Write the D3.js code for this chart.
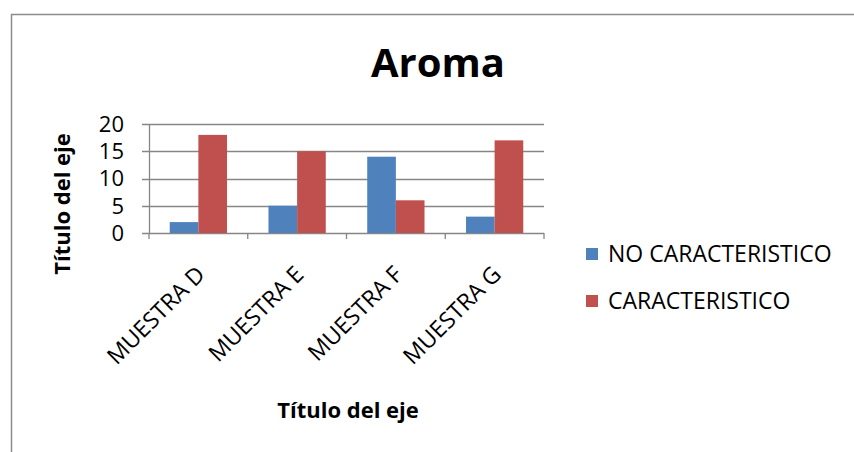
<!DOCTYPE html>
<html>
<head>
<meta charset="utf-8">
<script src="https://cdn.jsdelivr.net/npm/d3@7"></script>
<style>
  html, body { margin: 0; padding: 0; background: #fff; }
  svg { display: block; font-family: "Open Sans", Lato, sans-serif; }
</style>
</head>
<body>
<svg id="chart" width="854" height="452"></svg>
<script>
// Chart data
const categories = ["MUESTRA D", "MUESTRA E", "MUESTRA F", "MUESTRA G"];
const seriesNames = ["NO CARACTERISTICO", "CARACTERISTICO"];
const noCaracteristico = [2, 5, 14, 3];
const caracteristico = [18, 15, 6, 17];
const yTicks = [0, 5, 10, 15, 20];
const colors = ["#4F81BD", "#C0504D"];

const seriesValues = [noCaracteristico, caracteristico];

const svg = d3.select("#chart");

// Outer frame
svg.append("rect")
  .attr("x", 11.5).attr("y", 14.5)
  .attr("width", 860).attr("height", 460)
  .attr("fill", "#fff")
  .attr("stroke", "#8c8c8c").attr("stroke-width", 1.5);

const plot = { left: 149, right: 544, top: 124, bottom: 233 };

const x = d3.scaleBand().domain(categories).range([plot.left, plot.right]).paddingInner(0.42).paddingOuter(0.21);
const xs = d3.scaleBand().domain(seriesNames).range([0, x.bandwidth()]);
const y = d3.scaleLinear().domain([0, 20]).range([plot.bottom, plot.top]);

// Gridlines and left ticks
svg.append("g")
  .selectAll("line")
  .data(yTicks)
  .join("line")
  .attr("x1", plot.left - 7).attr("x2", plot.right)
  .attr("y1", d => Math.round(y(d)) + 0.5).attr("y2", d => Math.round(y(d)) + 0.5)
  .attr("stroke", "#868686").attr("stroke-width", 1.3);

// Y axis line
svg.append("line")
  .attr("x1", plot.left + 0.5).attr("x2", plot.left + 0.5)
  .attr("y1", plot.top).attr("y2", plot.bottom + 1)
  .attr("stroke", "#868686").attr("stroke-width", 1.3);

// Category boundary ticks
const step = (plot.right - plot.left) / categories.length;
svg.append("g")
  .selectAll("line")
  .data(d3.range(categories.length + 1))
  .join("line")
  .attr("x1", i => plot.left + i * step).attr("x2", i => plot.left + i * step)
  .attr("y1", plot.bottom).attr("y2", plot.bottom + 6)
  .attr("stroke", "#868686").attr("stroke-width", 1.3);

// Y tick labels
svg.append("g")
  .selectAll("text")
  .data(yTicks)
  .join("text")
  .attr("x", 124).attr("y", d => y(d))
  .attr("dy", "0.36em")
  .attr("text-anchor", "end")
  .attr("font-size", 22)
  .attr("fill", "#000")
  .text(d => d);

// Bars
const groups = svg.append("g")
  .selectAll("g")
  .data(categories)
  .join("g")
  .attr("transform", c => `translate(${x(c)},0)`);

groups.selectAll("rect")
  .data((c, i) => seriesNames.map((s, j) => ({ s, v: seriesValues[j][i], j })))
  .join("rect")
  .attr("x", d => xs(d.s))
  .attr("y", d => y(d.v))
  .attr("width", xs.bandwidth())
  .attr("height", d => y(0) - y(d.v))
  .attr("fill", d => colors[d.j]);

// Category labels, rotated
svg.append("g")
  .selectAll("text")
  .data(categories)
  .join("text")
  .attr("transform", c => `translate(${x(c) + x.bandwidth() / 2 + 8},${plot.bottom + 43}) rotate(-45)`)
  .attr("text-anchor", "end")
  .attr("font-size", 23)
  .attr("fill", "#000")
  .text(c => c);

// Title
svg.append("text")
  .attr("x", 438).attr("y", 77)
  .attr("text-anchor", "middle")
  .attr("font-size", 40).attr("font-weight", "bold")
  .text("Aroma");

// Axis titles
svg.append("text")
  .attr("x", 348).attr("y", 418)
  .attr("text-anchor", "middle")
  .attr("font-size", 22).attr("font-weight", "bold")
  .text("Título del eje");

svg.append("text")
  .attr("transform", "translate(70,204) rotate(-90)")
  .attr("text-anchor", "middle")
  .attr("font-size", 22).attr("font-weight", "bold")
  .text("Título del eje");

// Legend
const legend = svg.append("g")
  .selectAll("g")
  .data(seriesNames)
  .join("g")
  .attr("transform", (d, i) => `translate(586,${248 + i * 47})`);

legend.append("rect")
  .attr("width", 12).attr("height", 12)
  .attr("fill", (d, i) => colors[i]);

legend.append("text")
  .attr("x", 22).attr("y", 6)
  .attr("dy", "0.36em")
  .attr("font-size", 23)
  .attr("fill", "#000")
  .text(d => d);
</script>
</body>
</html>
